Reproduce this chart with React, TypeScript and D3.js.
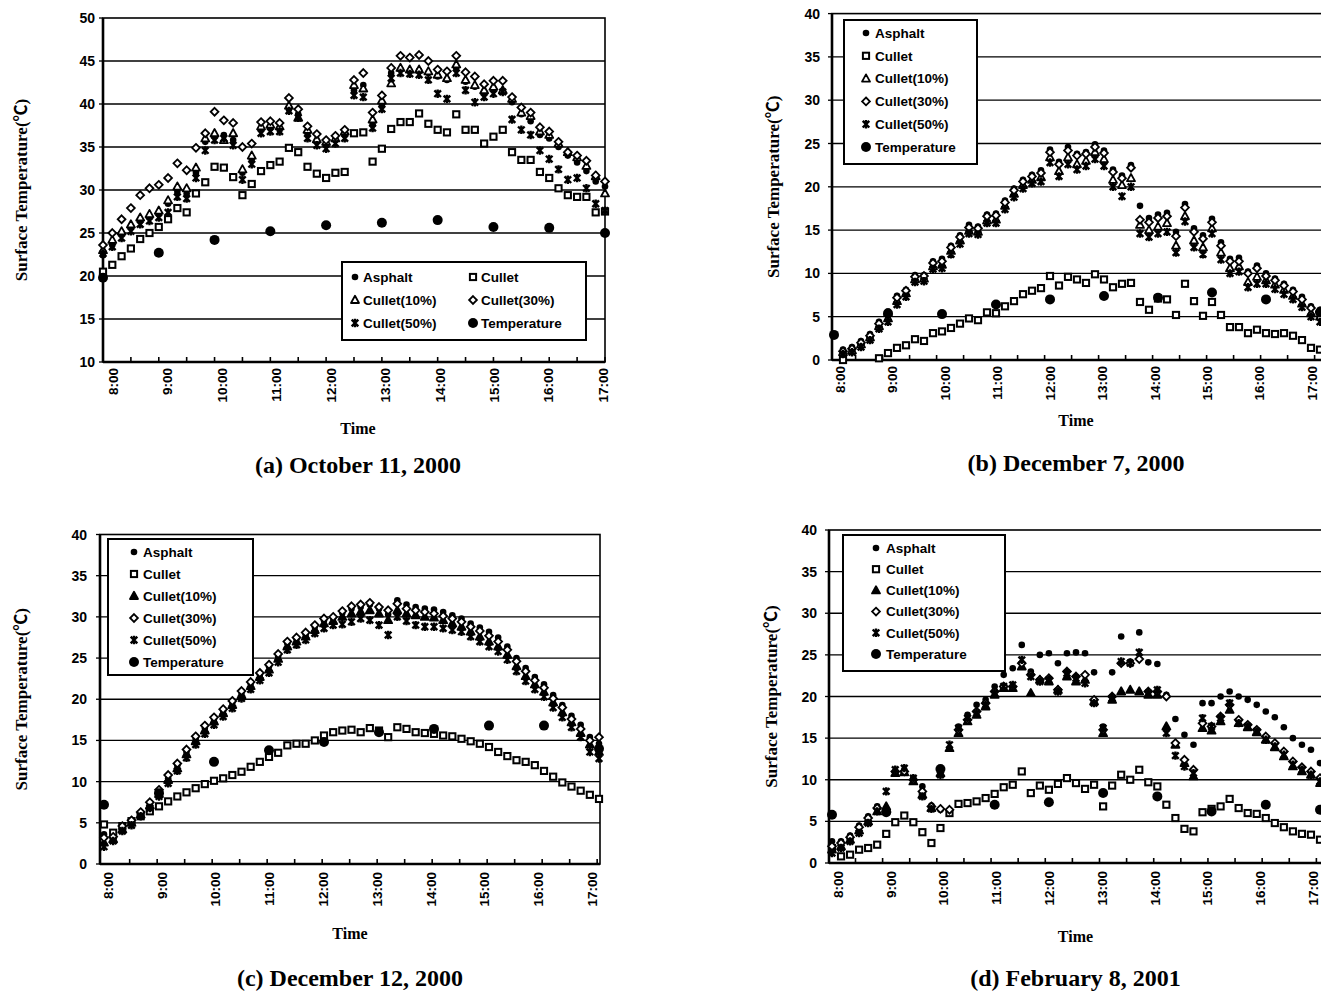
import React, { useEffect, useRef } from "react";
import * as d3 from "d3";

// 10-minute readings from 8:00 to 17:00 (55 per series); temperature is hourly
const HOUR_LABELS = ["8:00", "9:00", "10:00", "11:00", "12:00", "13:00", "14:00", "15:00", "16:00", "17:00"];
const SERIES_NAMES = ["Asphalt", "Cullet", "Cullet(10%)", "Cullet(30%)", "Cullet(50%)", "Temperature"];

// (a) October 11, 2000
const aAsphalt = [22.4, 23.6, 25.0, 25.6, 26.4, 26.8, 27.2, 28.4, 29.8, 29.6, 32.0, 35.6, 36.2, 36.4, 35.8, 32.0, 33.6, 37.0, 37.2, 37.0, 39.4, 38.8, 36.6, 35.6, 35.2, 35.8, 36.4, 41.6, 42.2, 37.6, 39.8, 43.6, 44.0, 43.8, 43.9, 43.6, 43.2, 42.8, 44.2, 42.6, 42.0, 41.4, 41.8, 41.4, 40.2, 38.8, 38.0, 36.4, 36.0, 35.0, 34.0, 33.2, 32.2, 31.0, 30.4];
const aCullet = [20.5, 21.3, 22.3, 23.2, 24.3, 25.0, 25.7, 26.6, 27.9, 27.4, 29.6, 30.9, 32.7, 32.6, 31.5, 29.4, 30.7, 32.2, 32.9, 33.3, 34.9, 34.4, 32.7, 31.9, 31.4, 32.0, 32.1, 36.6, 36.7, 33.3, 34.8, 37.1, 37.9, 37.9, 38.9, 37.7, 37.0, 36.7, 38.8, 37.0, 37.0, 35.4, 36.2, 37.0, 34.4, 33.5, 33.5, 32.1, 31.4, 30.2, 29.4, 29.2, 29.2, 27.4, 27.5];
const aCullet10 = [23.0, 24.2, 25.2, 26.0, 26.8, 27.2, 27.6, 28.8, 30.4, 30.2, 32.6, 36.0, 36.6, 35.8, 36.6, 32.4, 34.0, 37.4, 37.6, 37.4, 39.8, 38.4, 37.0, 35.9, 35.6, 36.0, 36.8, 42.2, 41.8, 38.2, 40.4, 42.4, 44.2, 44.0, 44.0, 43.8, 43.4, 43.0, 44.6, 42.8, 42.2, 41.6, 42.0, 41.6, 40.6, 39.0, 38.6, 36.8, 36.4, 35.4, 34.4, 33.8, 32.8, 31.6, 29.6];
const aCullet30 = [23.6, 25.0, 26.6, 27.9, 29.4, 30.2, 30.6, 31.4, 33.1, 32.3, 34.9, 36.6, 39.1, 38.1, 37.8, 35.0, 35.4, 37.9, 38.0, 37.8, 40.7, 39.4, 37.4, 36.5, 35.8, 36.3, 37.0, 42.8, 43.6, 39.0, 41.0, 44.2, 45.6, 45.4, 45.7, 45.0, 44.0, 43.8, 45.6, 43.7, 43.2, 42.3, 42.7, 42.7, 40.8, 39.6, 39.0, 37.3, 36.8, 35.6, 34.4, 34.0, 33.4, 31.7, 31.0];
const aCullet50 = [22.6, 23.4, 24.4, 25.2, 26.0, 26.4, 26.8, 27.4, 29.2, 29.0, 31.4, 34.6, 35.8, 36.0, 35.2, 31.2, 33.0, 36.6, 36.8, 36.8, 39.2, 38.4, 36.0, 35.2, 34.8, 35.4, 36.0, 41.0, 40.8, 37.2, 39.4, 43.0, 43.6, 43.5, 43.4, 42.8, 41.2, 40.6, 43.6, 41.6, 40.2, 40.8, 41.2, 41.4, 38.2, 37.0, 36.4, 34.6, 33.6, 32.4, 31.2, 31.4, 30.2, 28.4, 27.6];
const aTemp = [19.8, 22.7, 24.2, 25.2, 25.9, 26.2, 26.5, 25.7, 25.6, 25.0];

// (b) December 7, 2000
const bAsphalt = [null, 1.2, 1.5, 2.2, 3.0, 4.4, 5.6, 7.4, 8.1, 9.8, 9.8, 11.4, 11.7, 13.2, 14.4, 15.6, 15.4, 16.8, 16.9, 18.4, 19.8, 20.8, 21.4, 21.9, 24.3, 22.9, 24.6, 23.8, 24.0, 24.9, 24.2, 22.0, 21.3, 22.5, 17.8, 16.4, 16.8, 17.0, 14.8, 18.0, 15.2, 14.4, 16.3, 13.6, 11.7, 11.8, 10.2, 10.9, 10.0, 9.4, 8.8, 8.1, 7.3, 6.2, 5.8];
const bCullet = [-0.3, 0.0, -0.4, -0.5, -0.2, 0.2, 0.8, 1.4, 1.7, 2.4, 2.2, 3.1, 3.3, 3.7, 4.2, 4.8, 4.6, 5.5, 5.4, 6.2, 6.8, 7.6, 8.0, 8.3, 9.7, 8.6, 9.6, 9.3, 8.9, 9.9, 9.3, 8.4, 8.8, 8.9, 6.7, 5.8, 7.1, 7.0, 5.2, 8.8, 6.8, 5.1, 6.7, 5.2, 3.8, 3.8, 3.1, 3.5, 3.1, 3.0, 3.1, 2.8, 2.3, 1.4, 1.2];
const bCullet10 = [null, 0.9, 1.1, 1.8, 2.6, 3.9, 4.8, 6.8, 7.7, 9.3, 9.4, 10.8, 11.0, 12.6, 13.8, 14.9, 14.8, 16.1, 16.2, 17.8, 19.2, 20.2, 20.8, 21.1, 23.4, 21.8, 23.4, 22.6, 23.0, 24.0, 23.2, 20.8, 20.2, 21.0, 15.6, 15.0, 15.4, 15.8, 13.2, 16.6, 13.8, 13.0, 15.2, 12.4, 10.6, 10.8, 9.0, 9.6, 9.2, 8.7, 8.1, 7.4, 6.5, 5.4, 5.0];
const bCullet30 = [null, 1.0, 1.3, 2.0, 2.8, 4.2, 5.2, 7.2, 8.0, 9.6, 9.7, 11.2, 11.4, 13.0, 14.2, 15.3, 15.2, 16.6, 16.7, 18.2, 19.6, 20.6, 21.2, 21.6, 24.0, 22.6, 24.2, 23.6, 23.8, 24.6, 23.9, 21.7, 21.0, 22.2, 16.2, 15.9, 16.4, 16.6, 14.3, 17.6, 14.8, 14.0, 15.9, 13.2, 11.4, 11.4, 10.0, 10.6, 9.7, 9.2, 8.6, 7.9, 7.0, 6.0, 5.6];
const bCullet50 = [null, 0.7, 0.9, 1.5, 2.3, 3.6, 4.4, 6.4, 7.3, 9.0, 9.1, 10.5, 10.6, 12.2, 13.4, 14.6, 14.5, 15.8, 15.8, 17.4, 18.8, 19.8, 20.4, 20.6, 22.8, 21.2, 22.6, 22.0, 22.4, 23.2, 22.4, 20.0, 18.9, 20.0, 14.6, 14.2, 14.6, 14.8, 12.4, 16.0, 13.0, 12.2, 14.6, 11.6, 10.0, 10.2, 8.4, 8.8, 8.8, 8.2, 7.6, 7.0, 6.1, 5.0, 4.4];
const bTemp = [2.9, 5.4, 5.3, 6.4, 7.0, 7.4, 7.2, 7.8, 7.0, 5.5];

// (c) December 12, 2000
const cAsphalt = [3.6, 3.0, 4.4, 5.0, 6.1, 7.2, 8.8, 10.4, 12.0, 13.6, 15.2, 16.5, 17.6, 18.6, 19.6, 20.8, 21.9, 23.0, 24.0, 25.2, 26.8, 27.3, 27.9, 28.8, 29.6, 29.9, 30.5, 31.0, 31.2, 31.5, 31.0, 30.3, 32.0, 31.5, 31.2, 31.0, 30.9, 30.6, 30.2, 29.8, 29.2, 28.7, 28.2, 27.5, 26.4, 25.0, 23.8, 22.7, 21.8, 20.5, 19.3, 18.0, 16.9, 15.4, 14.6];
const cCullet = [4.8, 3.8, 4.6, 5.2, 5.8, 6.4, 7.0, 7.6, 8.2, 8.7, 9.2, 9.7, 10.1, 10.4, 10.8, 11.2, 11.8, 12.4, 13.0, 13.5, 14.4, 14.6, 14.6, 15.0, 15.6, 16.0, 16.2, 16.3, 16.0, 16.5, 16.2, 15.4, 16.6, 16.4, 16.0, 15.9, 15.8, 15.6, 15.5, 15.2, 14.9, 14.6, 14.2, 13.6, 13.1, 12.6, 12.4, 12.0, 11.3, 10.6, 9.9, 9.4, 8.9, 8.4, 7.9];
const cCullet10 = [2.6, 3.0, 4.2, 5.0, 6.0, 7.1, 8.5, 10.2, 11.6, 13.3, 14.9, 16.2, 17.3, 18.3, 19.3, 20.5, 21.6, 22.7, 23.6, 24.9, 26.4, 27.0, 27.6, 28.4, 29.2, 29.5, 30.0, 30.4, 30.6, 30.8, 30.4, 29.6, 30.8, 30.4, 30.2, 30.0, 29.9, 29.6, 29.2, 28.8, 28.2, 27.6, 27.0, 26.4, 25.4, 24.0, 22.8, 21.8, 20.9, 19.6, 18.4, 17.2, 15.9, 14.5, 13.6];
const cCullet30 = [3.2, 3.3, 4.6, 5.3, 6.3, 7.5, 9.0, 10.8, 12.2, 13.9, 15.5, 16.8, 17.8, 18.8, 19.8, 21.0, 22.1, 23.2, 24.2, 25.5, 27.0, 27.5, 28.1, 29.0, 29.8, 30.0, 30.7, 31.3, 31.5, 31.7, 31.2, 30.8, 31.6, 31.0, 30.8, 30.6, 30.4, 30.1, 29.8, 29.4, 28.8, 28.3, 27.7, 27.0, 26.0, 24.6, 23.4, 22.3, 21.4, 20.1, 19.0, 17.6, 16.4, 15.0, 15.4];
const cCullet50 = [2.1, 2.8, 4.0, 4.7, 5.8, 6.8, 8.2, 9.8, 11.3, 12.9, 14.5, 15.8, 16.9, 17.9, 18.9, 20.1, 21.2, 22.3, 23.2, 24.5, 26.0, 26.6, 27.2, 28.0, 28.6, 29.0, 29.1, 29.4, 29.8, 29.6, 29.0, 27.8, 30.0, 29.5, 29.0, 28.8, 28.8, 28.6, 28.4, 28.2, 27.6, 27.0, 26.4, 25.8, 24.8, 23.4, 22.2, 21.2, 20.3, 19.0, 17.8, 16.6, 15.4, 13.6, 12.8];
const cTemp = [7.2, 8.6, 12.4, 13.8, 14.8, 16.0, 16.4, 16.8, 16.8, 14.0];

// (d) February 8, 2001
const dAsphalt = [2.6, 2.6, 3.3, 4.5, 5.6, 6.8, 6.4, 11.0, 11.2, 10.2, 9.2, 6.9, 6.4, 6.2, 16.4, 17.8, 19.0, 19.6, 21.2, 22.6, 23.4, 26.2, 23.0, 25.0, 25.2, 24.0, 25.2, 25.3, 25.2, 22.9, 16.4, 22.9, 27.2, 24.2, 27.7, 24.1, 23.9, 20.2, 17.3, 15.4, 14.2, 19.2, 19.2, 20.0, 20.6, 20.0, 19.6, 19.0, 18.2, 17.5, 16.3, 15.0, 14.2, 13.6, 12.0];
const dCullet = [1.8, 0.8, 1.0, 1.6, 1.8, 2.2, 3.5, 4.9, 5.7, 4.9, 3.7, 2.4, 4.2, 6.0, 7.1, 7.2, 7.4, 7.8, 8.3, 9.1, 9.4, 11.0, 8.4, 9.3, 8.8, 9.5, 10.2, 9.6, 8.9, 9.4, 6.8, 9.3, 10.6, 10.0, 11.2, 9.7, 9.2, 7.0, 5.4, 4.1, 3.8, 6.1, 6.5, 6.8, 7.7, 6.6, 6.0, 5.9, 5.4, 4.8, 4.3, 3.8, 3.5, 3.4, 2.8];
const dCullet10 = [1.6, 2.0, 2.8, 3.9, 5.0, 6.2, 6.8, 10.8, 10.9, 9.8, 8.2, 6.6, 10.8, 13.8, 15.6, 17.0, 17.8, 18.8, 20.2, 21.0, 21.0, 23.6, 20.4, 22.0, 21.8, 20.8, 22.4, 21.8, 22.0, 19.4, 15.6, 19.6, 20.6, 20.8, 20.6, 20.2, 20.2, 16.4, 14.2, 12.0, 10.4, 16.2, 15.9, 17.0, 18.4, 16.8, 16.3, 15.7, 14.8, 13.9, 12.8, 11.6, 11.0, 10.6, 9.6];
const dCullet30 = [2.0, 2.4, 3.1, 4.3, 5.4, 6.6, 6.2, 11.0, 11.0, 10.0, 8.6, 6.8, 6.5, 6.4, 16.0, 17.2, 18.2, 19.2, 20.6, 21.2, 21.2, 24.0, 22.6, 22.0, 22.2, 20.8, 23.0, 22.4, 22.6, 19.6, 16.0, 20.0, 24.0, 24.0, 24.5, 20.6, 20.6, 20.0, 14.4, 12.4, 11.2, 16.8, 16.4, 17.6, 19.0, 17.2, 16.6, 16.0, 15.2, 14.4, 13.4, 12.2, 11.5, 11.0, 10.2];
const dCullet50 = [1.2, 1.8, 2.6, 3.6, 4.8, 6.2, 8.6, 11.2, 11.4, 10.2, 8.0, 6.5, 10.6, 14.2, 16.2, 17.4, 18.0, 19.0, 20.4, 21.2, 21.4, 24.4, 22.4, 21.8, 22.0, 20.6, 22.8, 22.2, 21.6, 19.2, 16.2, 19.8, 24.2, 24.0, 25.3, 20.4, 20.8, 15.6, 12.9, 11.6, 10.8, 17.4, 16.4, 17.4, 19.2, 16.8, 16.4, 15.8, 14.8, 14.0, 13.0, 11.8, 11.2, 10.6, 9.8];
const dTemp = [5.8, 6.1, 11.3, 7.0, 7.3, 8.4, 8.0, 6.2, 7.0, 6.4];

type Legend = { kind: "grid" | "column"; x: number; y: number; w: number; h: number; rowGap: number; markerX: number[]; textX: number[]; firstRow: number };

interface Panel {
  caption: string;
  series: (number | null)[][];
  temp: number[];
  yDomain: [number, number];
  plot: { left: number; right: number; top: number; bottom: number };
  dataRange: [number, number];
  labelRange: [number, number];
  tickShift: number;
  yLabelRight: number;
  xLabelTop: number;
  titleX: number;
  timeY: number;
  captionY: number;
  solidTriangle: boolean;
  legend: Legend;
}

const PANELS: Panel[] = [
  {
    caption: "(a) October 11, 2000",
    series: [aAsphalt, aCullet, aCullet10, aCullet30, aCullet50],
    temp: aTemp,
    yDomain: [10, 50],
    plot: { left: 103, right: 605, top: 18, bottom: 362 },
    dataRange: [103, 605],
    labelRange: [113, 603],
    tickShift: 0,
    yLabelRight: 95,
    xLabelTop: 368,
    titleX: 21,
    timeY: 434,
    captionY: 473,
    solidTriangle: false,
    legend: { kind: "grid", x: 342, y: 262, w: 244, h: 78, rowGap: 23, markerX: [355, 473], textX: [363, 481], firstRow: 277 },
  },
  {
    caption: "(b) December 7, 2000",
    series: [bAsphalt, bCullet, bCullet10, bCullet30, bCullet50],
    temp: bTemp,
    yDomain: [0, 40],
    plot: { left: 832, right: 1340, top: 13.6, bottom: 360 },
    dataRange: [834, 1320],
    labelRange: [840, 1312],
    tickShift: -0.6,
    yLabelRight: 820,
    xLabelTop: 366,
    titleX: 773,
    timeY: 426,
    captionY: 471,
    solidTriangle: false,
    legend: { kind: "column", x: 844, y: 20, w: 133, h: 144, rowGap: 22.8, markerX: [866], textX: [875], firstRow: 33 },
  },
  {
    caption: "(c) December 12, 2000",
    series: [cAsphalt, cCullet, cCullet10, cCullet30, cCullet50],
    temp: cTemp,
    yDomain: [0, 40],
    plot: { left: 100, right: 600, top: 534.5, bottom: 864 },
    dataRange: [104, 599],
    labelRange: [108, 592],
    tickShift: -0.2,
    yLabelRight: 87,
    xLabelTop: 872,
    titleX: 21,
    timeY: 939,
    captionY: 986,
    solidTriangle: true,
    legend: { kind: "column", x: 108, y: 539, w: 145, h: 136, rowGap: 22, markerX: [134], textX: [143], firstRow: 552 },
  },
  {
    caption: "(d) February 8, 2001",
    series: [dAsphalt, dCullet, dCullet10, dCullet30, dCullet50],
    temp: dTemp,
    yDomain: [0, 40],
    plot: { left: 829, right: 1340, top: 530, bottom: 863 },
    dataRange: [832, 1320],
    labelRange: [838, 1313],
    tickShift: -0.4,
    yLabelRight: 817,
    xLabelTop: 871,
    titleX: 771,
    timeY: 942,
    captionY: 986,
    solidTriangle: true,
    legend: { kind: "column", x: 843, y: 535, w: 162, h: 136, rowGap: 21.2, markerX: [876], textX: [886], firstRow: 548 },
  },
];

const SANS = "'Liberation Sans', Arial, sans-serif";
const SERIF = "'Liberation Serif', 'Times New Roman', 'Noto Sans CJK JP', serif";

// marker drawing: 0 asphalt, 1 cullet, 2 cullet10, 3 cullet30, 4 cullet50, 5 temperature
function drawMarker(
  g: d3.Selection<SVGGElement, unknown, null, undefined>,
  kind: number,
  x: number,
  y: number,
  solidTriangle: boolean,
) {
  const t = `translate(${x},${y})`;
  if (kind === 0) {
    g.append("circle").attr("cx", x).attr("cy", y).attr("r", 3.3).attr("fill", "#000");
  } else if (kind === 1) {
    g.append("rect")
      .attr("x", x - 3.1).attr("y", y - 3.1).attr("width", 6.2).attr("height", 6.2)
      .attr("fill", "#fff").attr("stroke", "#000").attr("stroke-width", 2);
  } else if (kind === 2) {
    g.append("path")
      .attr("transform", t)
      .attr("d", "M0,-4.2L4,3L-4,3Z")
      .attr("fill", solidTriangle ? "#000" : "#fff")
      .attr("stroke", "#000").attr("stroke-width", 1.8).attr("stroke-linejoin", "round");
  } else if (kind === 3) {
    g.append("path")
      .attr("transform", t)
      .attr("d", "M0,-3.9L3.9,0L0,3.9L-3.9,0Z")
      .attr("fill", "#fff").attr("stroke", "#000").attr("stroke-width", 1.8);
  } else if (kind === 4) {
    g.append("path")
      .attr("transform", t)
      .attr("d", "M-3.3,-3.3L3.3,3.3M-3.3,3.3L3.3,-3.3M0,-4.2L0,4.2")
      .attr("fill", "none").attr("stroke", "#000").attr("stroke-width", 2.4);
  } else {
    g.append("circle").attr("cx", x).attr("cy", y).attr("r", 5).attr("fill", "#000");
  }
}

function drawPanel(svg: d3.Selection<SVGSVGElement, unknown, null, undefined>, p: Panel) {
  const g = svg.append("g");
  const { left, right, top, bottom } = p.plot;

  const y = d3.scaleLinear().domain(p.yDomain).range([bottom, top]);
  const x = d3.scaleLinear().domain([0, p.series[0].length - 1]).range(p.dataRange);
  const xLabel = d3.scaleLinear().domain([0, HOUR_LABELS.length - 1]).range(p.labelRange);

  // plot background
  g.append("rect")
    .attr("x", left).attr("y", top).attr("width", right - left).attr("height", bottom - top)
    .attr("fill", "#fff").attr("stroke", "#000").attr("stroke-width", 1.6);

  const yTicks = d3.range(p.yDomain[0], p.yDomain[1] + 0.1, 5);

  // gridlines
  g.selectAll(".grid")
    .data(yTicks.slice(1, -1))
    .enter()
    .append("line")
    .attr("x1", left).attr("x2", right)
    .attr("y1", (d) => y(d)).attr("y2", (d) => y(d))
    .attr("stroke", "#000").attr("stroke-width", 1.3);

  // y tick marks & labels
  yTicks.forEach((v) => {
    g.append("line")
      .attr("x1", left - 4).attr("x2", left)
      .attr("y1", y(v)).attr("y2", y(v))
      .attr("stroke", "#000").attr("stroke-width", 1.3);
    g.append("text")
      .attr("x", p.yLabelRight).attr("y", y(v))
      .attr("dy", "0.36em")
      .attr("text-anchor", "end")
      .style("font-family", SANS).style("font-size", "14px").style("font-weight", "bold")
      .text(String(v));
  });

  // x tick marks every 30 minutes (inside)
  for (let i = 3 + p.tickShift; i <= p.series[0].length - 1; i += 3) {
    g.append("line")
      .attr("x1", x(i)).attr("x2", x(i))
      .attr("y1", bottom).attr("y2", bottom - 5)
      .attr("stroke", "#000").attr("stroke-width", 1.6);
  }

  // x labels
  HOUR_LABELS.forEach((lab, k) => {
    g.append("text")
      .attr("transform", `translate(${xLabel(k)},${p.xLabelTop}) rotate(-90)`)
      .attr("text-anchor", "end")
      .attr("dy", "0.36em")
      .style("font-family", SANS).style("font-size", "13.5px").style("font-weight", "bold")
      .text(lab);
  });

  // axes lines
  g.append("line").attr("x1", left).attr("x2", left).attr("y1", top).attr("y2", bottom)
    .attr("stroke", "#000").attr("stroke-width", 2.6);
  g.append("line").attr("x1", left).attr("x2", right).attr("y1", bottom).attr("y2", bottom)
    .attr("stroke", "#000").attr("stroke-width", 2.6);

  // data points
  const marks = g.append("g");
  p.series.forEach((vals, s) => {
    vals.forEach((v, i) => {
      if (v === null || v < p.yDomain[0] || v > p.yDomain[1]) return;
      drawMarker(marks, s, x(i), y(v), p.solidTriangle);
    });
  });
  p.temp.forEach((v, k) => {
    drawMarker(marks, 5, x(k * 6), y(v), p.solidTriangle);
  });

  // legend
  const L = p.legend;
  const lg = g.append("g");
  lg.append("rect")
    .attr("x", L.x).attr("y", L.y).attr("width", L.w).attr("height", L.h)
    .attr("fill", "#fff").attr("stroke", "#000").attr("stroke-width", 2);
  SERIES_NAMES.forEach((name, s) => {
    const col = L.kind === "grid" ? s % 2 : 0;
    const row = L.kind === "grid" ? Math.floor(s / 2) : s;
    const cy = L.firstRow + row * L.rowGap;
    drawMarker(lg, s, L.markerX[col], cy, p.solidTriangle);
    lg.append("text")
      .attr("x", L.textX[col]).attr("y", cy)
      .attr("dy", "0.36em")
      .style("font-family", SANS).style("font-size", "13.5px").style("font-weight", "bold")
      .text(name);
  });

  // axis titles
  const midY = (top + bottom) / 2;
  g.append("text")
    .attr("transform", `translate(${p.titleX},${midY}) rotate(-90)`)
    .attr("text-anchor", "middle")
    .attr("dy", "0.35em")
    .style("font-family", SERIF).style("font-size", "17px").style("font-weight", "bold")
    .text("Surface Temperature(℃)");

  const midX = (p.labelRange[0] + p.labelRange[1]) / 2;
  g.append("text")
    .attr("x", midX).attr("y", p.timeY)
    .attr("text-anchor", "middle")
    .style("font-family", SERIF).style("font-size", "16px").style("font-weight", "bold")
    .text("Time");

  g.append("text")
    .attr("x", midX).attr("y", p.captionY)
    .attr("text-anchor", "middle")
    .style("font-family", SERIF).style("font-size", "24px").style("font-weight", "bold")
    .text(p.caption);
}

export default function App() {
  const ref = useRef<SVGSVGElement | null>(null);

  useEffect(() => {
    const svg = d3.select(ref.current as SVGSVGElement);
    svg.selectAll("*").remove();
    svg.append("rect").attr("width", 1321).attr("height", 994).attr("fill", "#fff");
    PANELS.forEach((p) => drawPanel(svg, p));
  }, []);

  return (
    <svg
      ref={ref}
      width={1321}
      height={994}
      style={{ position: "absolute", left: 0, top: 0, display: "block" }}
    />
  );
}
